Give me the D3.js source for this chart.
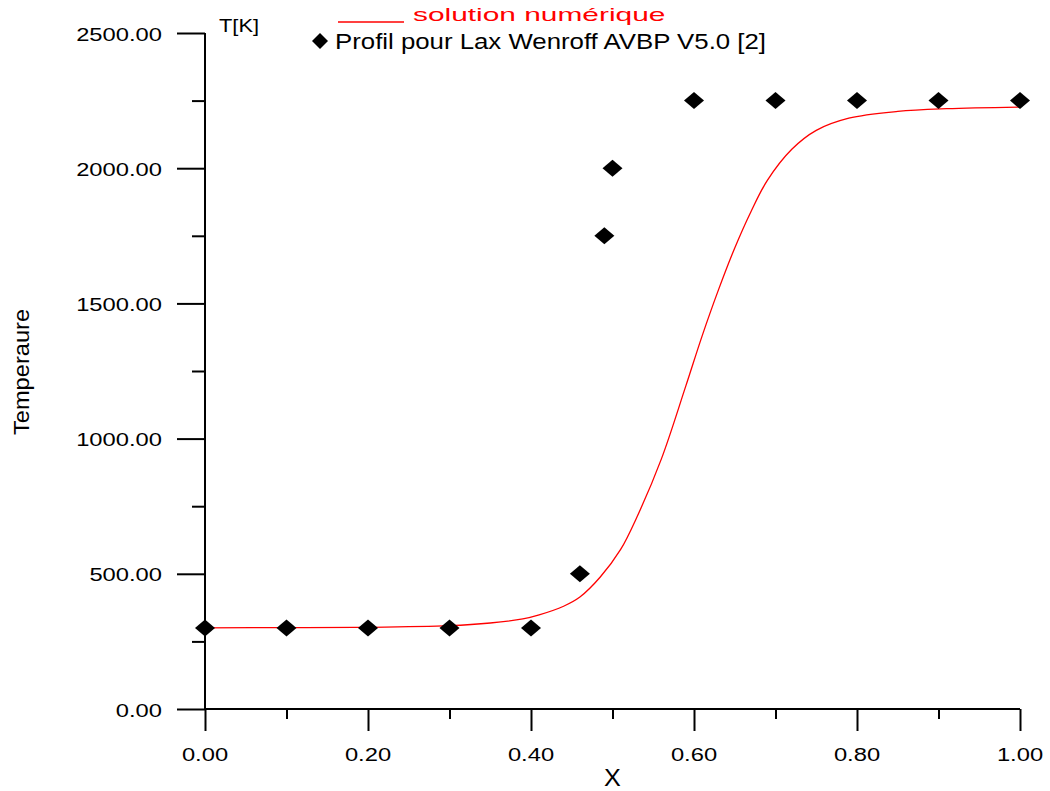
<!DOCTYPE html>
<html>
<head>
<meta charset="utf-8">
<script src="https://cdn.jsdelivr.net/npm/d3@7"></script>
<style>
  html, body { margin: 0; padding: 0; background: #fff; }
  svg { display: block; font-family: "Liberation Sans", Arial, sans-serif; }
</style>
</head>
<body>
<svg id="chart" width="1050" height="791"></svg>
<script>
// Numerical solution (red curve), sampled along X
const solX = [0, 0.1, 0.2, 0.3, 0.35, 0.39, 0.41, 0.44, 0.46, 0.485, 0.51, 0.53, 0.56, 0.59, 0.61, 0.63, 0.65, 0.67, 0.69, 0.72, 0.75, 0.79, 0.85, 0.91, 1.0];
const solT = [300, 301, 302, 308, 318, 333, 348, 380, 414, 488, 590, 710, 925, 1195, 1380, 1550, 1705, 1840, 1955, 2070, 2140, 2185, 2210, 2220, 2226];

// Lax-Wendroff profile (AVBP V5.0), diamonds
const profX = [0, 0.1, 0.2, 0.3, 0.4, 0.46, 0.49, 0.5, 0.6, 0.7, 0.8, 0.9, 1.0];
const profT = [300, 300, 300, 300, 300, 500, 1750, 2000, 2250, 2250, 2250, 2250, 2250];

// Axis ticks
const xMajor = [0, 0.2, 0.4, 0.6, 0.8, 1.0];
const xMinor = [0.1, 0.3, 0.5, 0.7, 0.9];
const yMajor = [0, 500, 1000, 1500, 2000, 2500];
const yMinor = [250, 750, 1250, 1750, 2250];

const legendLine = "solution numérique";
const legendMarks = "Profil pour Lax Wenroff AVBP V5.0 [2]";
const yUnit = "T[K]";
const xTitle = "X";
const yTitle = "Temperaure";

const svg = d3.select("#chart");
const x = d3.scaleLinear().domain([0, 1]).range([205, 1020]);
const y = d3.scaleLinear().domain([0, 2500]).range([709, 33]);

// Horizontally stretched text, as the plotting program renders it
function label(str, tx, ty, size, sx, anchor, fill, rot) {
  return svg.append("text")
    .attr("transform", `translate(${tx},${ty})` + (rot ? ` rotate(${rot})` : "") + ` scale(${sx},1)`)
    .attr("font-size", size)
    .attr("text-anchor", anchor)
    .attr("fill", fill || "#000")
    .text(str);
}

// Axes: ticks drawn by d3 axis generators, labels drawn separately
const axisStyle = g => {
  g.selectAll("path.domain").remove();
  g.selectAll("line").attr("stroke", "#000").attr("stroke-width", 2);
  g.selectAll("text").remove();
};

svg.append("g").attr("transform", `translate(0,${y(0)})`)
  .call(d3.axisBottom(x).tickValues(xMajor).tickSize(22).tickFormat(""))
  .call(axisStyle);
svg.append("g").attr("transform", `translate(0,${y(0)})`)
  .call(d3.axisBottom(x).tickValues(xMinor).tickSize(10).tickFormat(""))
  .call(axisStyle);
svg.append("g").attr("transform", `translate(${x(0)},0)`)
  .call(d3.axisLeft(y).tickValues(yMajor).tickSize(28).tickFormat(""))
  .call(axisStyle);
svg.append("g").attr("transform", `translate(${x(0)},0)`)
  .call(d3.axisLeft(y).tickValues(yMinor).tickSize(13).tickFormat(""))
  .call(axisStyle);

// Axis lines
svg.append("line").attr("x1", x(0)).attr("x2", x(1)).attr("y1", y(0)).attr("y2", y(0))
  .attr("stroke", "#000").attr("stroke-width", 2);
svg.append("line").attr("x1", x(0)).attr("x2", x(0)).attr("y1", y(0)).attr("y2", y(2500))
  .attr("stroke", "#000").attr("stroke-width", 2);

const fmt = d3.format(".2f");
xMajor.forEach(d => label(fmt(d), x(d), 761, 18, 1.32, "middle"));
yMajor.forEach(d => label(fmt(d), 162, y(d) + 7.5, 18, 1.32, "end"));

// Axis titles
label(xTitle, x(0.5), 786, 24, 1.05, "middle");
label(yTitle, 29, 372, 21.5, 1.1, "middle", "#000", -90);
label(yUnit, 219, 32, 19, 1.15, "start");

// Numerical solution curve
const line = d3.line()
  .x((d, i) => x(solX[i]))
  .y((d, i) => y(solT[i]))
  .curve(d3.curveCatmullRom.alpha(0.5));
svg.append("path")
  .attr("d", line(solT))
  .attr("fill", "none")
  .attr("stroke", "#ff0000")
  .attr("stroke-width", 1.3);

// Diamond markers
const diamond = (cx, cy, hw, hh) =>
  `M${cx - hw},${cy}L${cx},${cy - hh}L${cx + hw},${cy}L${cx},${cy + hh}Z`;
svg.append("g").selectAll("path")
  .data(profT)
  .join("path")
  .attr("d", (d, i) => diamond(x(profX[i]), y(d), 10, 8.5))
  .attr("fill", "#000");

// Legend
svg.append("line").attr("x1", 338).attr("x2", 404).attr("y1", 22).attr("y2", 22)
  .attr("stroke", "#ff0000").attr("stroke-width", 1.3);
label(legendLine, 413, 21, 18, 1.66, "start", "#ff0000");
svg.append("path").attr("d", diamond(320, 41, 8, 8)).attr("fill", "#000");
label(legendMarks, 335, 49, 21.5, 1.2, "start");
</script>
</body>
</html>
